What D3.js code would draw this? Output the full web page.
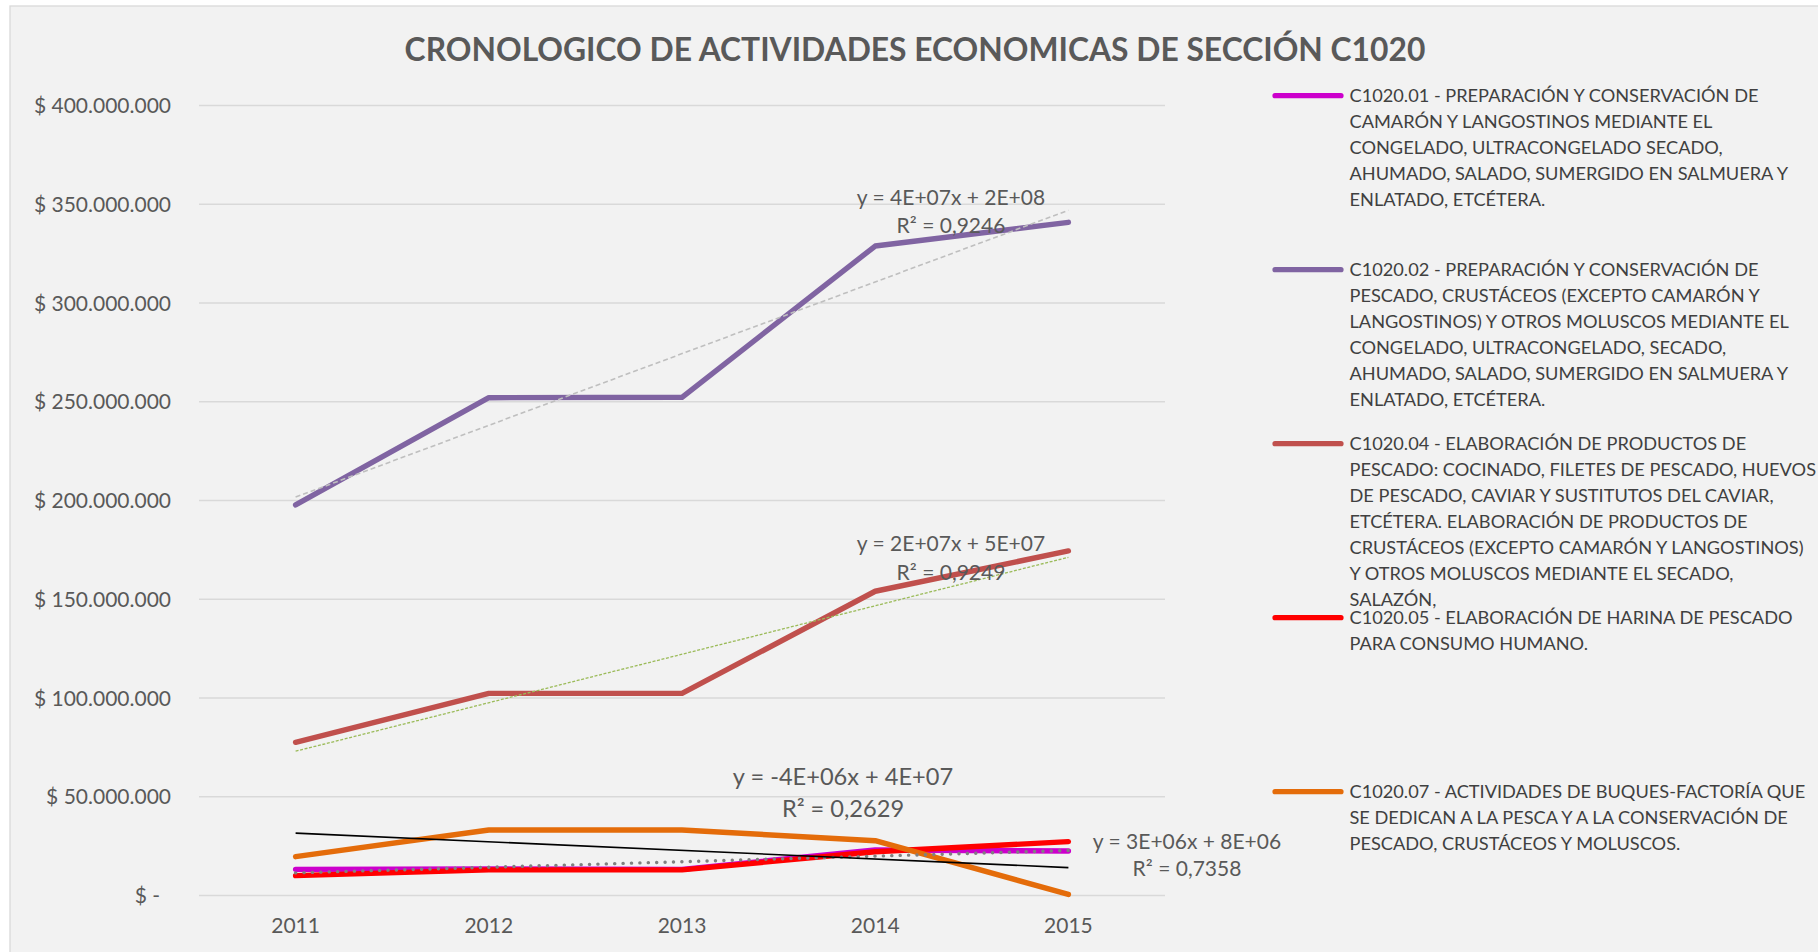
<!DOCTYPE html>
<html>
<head>
<meta charset="utf-8">
<script src="https://cdn.jsdelivr.net/npm/d3@7"></script>
<style>
  html, body { margin: 0; padding: 0; background: #ffffff; }
  svg { display: block; }
  text { font-family: Lato, "Open Sans", sans-serif; }
</style>
</head>
<body>
<svg id="chart" width="1818" height="952"></svg>
<script>
// ---------- DATA ----------
const years = ["2011", "2012", "2013", "2014", "2015"];
const yTicks = [0, 50e6, 100e6, 150e6, 200e6, 250e6, 300e6, 350e6, 400e6];

const seriesCodes = ["C1020.01", "C1020.02", "C1020.04", "C1020.05", "C1020.07"];
const values01 = [13.0e6, 13.2e6, 13.0e6, 22.8e6, 22.3e6];
const values02 = [197.5e6, 251.8e6, 252.0e6, 328.6e6, 340.6e6];
const values04 = [77.3e6, 102.1e6, 102.1e6, 153.8e6, 174.2e6];
const values05 = [9.8e6, 12.7e6, 12.7e6, 21.9e6, 27.0e6];
const values07 = [19.4e6, 32.9e6, 32.9e6, 27.5e6, 0.3e6];

const legendLines01 = [
  "C1020.01 - PREPARACIÓN Y CONSERVACIÓN DE",
  "CAMARÓN Y LANGOSTINOS MEDIANTE EL",
  "CONGELADO, ULTRACONGELADO SECADO,",
  "AHUMADO, SALADO, SUMERGIDO EN SALMUERA Y",
  "ENLATADO, ETCÉTERA."
];
const legendLines02 = [
  "C1020.02 - PREPARACIÓN Y CONSERVACIÓN DE",
  "PESCADO, CRUSTÁCEOS (EXCEPTO CAMARÓN Y",
  "LANGOSTINOS) Y OTROS MOLUSCOS MEDIANTE EL",
  "CONGELADO, ULTRACONGELADO, SECADO,",
  "AHUMADO, SALADO, SUMERGIDO EN SALMUERA Y",
  "ENLATADO, ETCÉTERA."
];
const legendLines04 = [
  "C1020.04 - ELABORACIÓN DE PRODUCTOS DE",
  "PESCADO: COCINADO, FILETES DE PESCADO, HUEVOS",
  "DE PESCADO, CAVIAR Y SUSTITUTOS DEL CAVIAR,",
  "ETCÉTERA. ELABORACIÓN DE PRODUCTOS DE",
  "CRUSTÁCEOS (EXCEPTO CAMARÓN Y LANGOSTINOS)",
  "Y OTROS MOLUSCOS MEDIANTE EL SECADO,",
  "SALAZÓN,"
];
const legendLines05 = [
  "C1020.05 - ELABORACIÓN DE HARINA DE PESCADO",
  "PARA CONSUMO HUMANO."
];
const legendLines07 = [
  "C1020.07 - ACTIVIDADES DE BUQUES-FACTORÍA QUE",
  "SE DEDICAN A LA PESCA Y A LA CONSERVACIÓN DE",
  "PESCADO, CRUSTÁCEOS Y MOLUSCOS."
];

const trendEquations = ["y = 3E+06x + 8E+06", "y = 4E+07x + 2E+08", "y = 2E+07x + 5E+07", "y = -4E+06x + 4E+07"];
const trendR2 = ["R² = 0,7358", "R² = 0,9246", "R² = 0,9249", "R² = 0,2629"];

const titleText = "CRONOLOGICO DE ACTIVIDADES ECONOMICAS DE SECCIÓN C1020";

// ---------- STYLE / LAYOUT ----------
const seriesColors = ["#CC00CC", "#8064A2", "#C0504D", "#FF0000", "#E46C0A"];
const allValues = [values01, values02, values04, values05, values07];
const allLegend = [legendLines01, legendLines02, legendLines04, legendLines05, legendLines07];

const svg = d3.select("#chart");

// chart area background
svg.append("rect")
  .attr("x", 10).attr("y", 6)
  .attr("width", 1830).attr("height", 960)
  .attr("fill", "#f2f2f2")
  .attr("stroke", "#d9d9d9").attr("stroke-width", 1.3);

const x = d3.scaleBand().domain(years).range([199, 1165]).paddingInner(0).paddingOuter(0);
const xc = d => x(d) + x.bandwidth() / 2;
const y = d3.scaleLinear().domain([0, 400e6]).range([895, 105]);

const loc = d3.formatLocale({ decimal: ",", thousands: ".", grouping: [3], currency: ["$ ", ""] });
const fmt = loc.format("$,.0f");

// gridlines via axis
const gridAxis = d3.axisLeft(y).tickValues(yTicks).tickSize(-(1165 - 199)).tickFormat("");
const g = svg.append("g").attr("transform", "translate(199,0)").call(gridAxis);
g.select(".domain").remove();
g.selectAll(".tick line").attr("stroke", "#d9d9d9").attr("stroke-width", 1.3);

// y labels
const yAxis = d3.axisLeft(y).tickValues(yTicks).tickSize(0).tickPadding(0)
  .tickFormat(v => v === 0 ? "$ -" : fmt(v));
const ya = svg.append("g").attr("transform", "translate(171,0)").call(yAxis);
ya.select(".domain").remove();
ya.selectAll(".tick text")
  .attr("font-family", "Lato, sans-serif")
  .attr("font-size", 21).attr("fill", "#595959")
  .attr("dy", null).attr("y", 7.5)
  .attr("x", v => v === 0 ? -11 : 0);

// x labels
const xAxis = d3.axisBottom(x).tickSize(0).tickPadding(0);
const xa = svg.append("g").attr("transform", "translate(0,895)").call(xAxis);
xa.select(".domain").remove();
xa.selectAll(".tick text")
  .attr("font-family", "Lato, sans-serif")
  .attr("font-size", 21).attr("fill", "#595959")
  .attr("dy", null).attr("y", 37.7);

// series lines
const line = d3.line().x((d, i) => xc(years[i])).y(d => y(d));
allValues.forEach((vals, i) => {
  svg.append("path")
    .attr("d", line(vals))
    .attr("fill", "none")
    .attr("stroke", seriesColors[i])
    .attr("stroke-width", 5.4)
    .attr("stroke-linecap", "round")
    .attr("stroke-linejoin", "round");
});

// linear trendlines (least squares over x = 1..5)
function regress(vals) {
  const n = vals.length;
  const xs = vals.map((_, i) => i + 1);
  const mx = d3.mean(xs), my = d3.mean(vals);
  const sxy = d3.sum(xs, (xv, i) => (xv - mx) * (vals[i] - my));
  const sxx = d3.sum(xs, xv => (xv - mx) * (xv - mx));
  const b = sxy / sxx, a = my - b * mx;
  return [a + b * 1, a + b * n];
}
const trendDefs = [
  { vals: values01, color: "#808080", width: 3.4, dash: "0.1 8.3", cap: "round" },
  { vals: values02, color: "#bfbfbf", width: 1.6, dash: "5 3", cap: "butt" },
  { vals: values04, color: "#9bbb59", width: 1.3, dash: "3 1.6", cap: "butt" },
  { vals: values07, color: "#000000", width: 1.6, dash: null, cap: "butt" }
];
trendDefs.forEach(t => {
  const [y0, y1] = regress(t.vals);
  svg.append("line")
    .attr("x1", xc(years[0])).attr("x2", xc(years[years.length - 1]))
    .attr("y1", y(y0)).attr("y2", y(y1))
    .attr("stroke", t.color).attr("stroke-width", t.width)
    .attr("stroke-dasharray", t.dash)
    .attr("stroke-linecap", t.cap);
});

// trend labels: [centerX, line1 centerY, line2 centerY, fontSize]
const trendLabelPos = [[1187, 841, 868.3, 21], [951, 197, 225, 21], [951, 543.3, 572.7, 21], [843, 776.7, 808.7, 23.6]];
trendLabelPos.forEach((p, i) => {
  const off = p[3] * 0.358;
  svg.append("text").attr("x", p[0]).attr("y", p[1] + off)
    .attr("text-anchor", "middle").attr("font-size", p[3]).attr("fill", "#595959")
    .text(trendEquations[i]);
  svg.append("text").attr("x", p[0]).attr("y", p[2] + off)
    .attr("text-anchor", "middle").attr("font-size", p[3]).attr("fill", "#595959")
    .text(trendR2[i]);
});

// title
svg.append("text")
  .attr("x", 915).attr("y", 61)
  .attr("text-anchor", "middle")
  .attr("font-size", 31.8).attr("font-weight", "bold").attr("fill", "#595959")
  .text(titleText);

// legend
const legendTop = 95.7, legendStep = 174, lineStep = 26;
allLegend.forEach((lines, i) => {
  const cy = legendTop + i * legendStep;
  svg.append("line")
    .attr("x1", 1275).attr("x2", 1341).attr("y1", cy).attr("y2", cy)
    .attr("stroke", seriesColors[i]).attr("stroke-width", 5.2)
    .attr("stroke-linecap", "round");
  const t = svg.append("text").attr("font-size", 18.2).attr("fill", "#404040");
  lines.forEach((ln, j) => {
    t.append("tspan").attr("x", 1349.5).attr("y", cy + j * lineStep + 6.6).text(ln);
  });
});
</script>
</body>
</html>
